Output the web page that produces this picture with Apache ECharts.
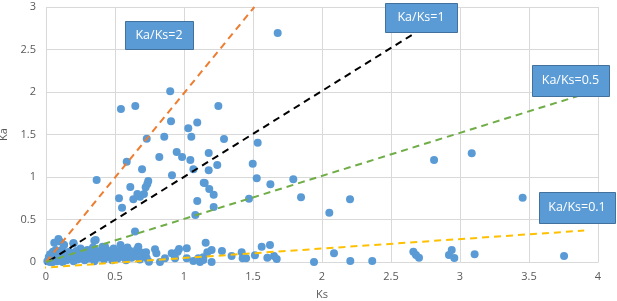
<!DOCTYPE html>
<html lang="en">
<head>
    <meta charset="utf-8"/>
    <title>Ka/Ks</title>
    <script src="https://cdn.jsdelivr.net/npm/echarts@6/dist/echarts.min.js"></script>
    <style>
        html, body { margin: 0; padding: 0; background: #fff; }
        #main { width: 617px; height: 301px; }
    </style>
</head>
<body>
<div id="main"></div>
<script>
    // Ks / Ka of every gene pair
    var ksValues = [
        0.367, 0.543, 0.647, 0.90, 0.73, 0.906, 1.031, 1.096, 1.053, 0.857, 0.585, 0.696, 0.821, 0.947, 0.986, 1.046,
        1.068, 0.913, 1.143, 0.741, 0.734, 0.722, 0.611, 0.529, 0.551, 0.633, 0.662, 0.681, 0.71, 1.096, 1.082, 0.645,
        1.249, 1.29, 1.179, 1.534, 1.241, 1.179, 1.498, 1.527, 1.15, 1.183, 1.215, 1.626, 1.792, 1.848, 1.471, 1.215,
        1.679, 2.203, 2.053, 2.812, 3.085, 3.454,
        0.669, 0.664, 0.725, 0.79, 0.80, 0.746, 0.73, 0.826, 0.862, 0.911, 0.93, 0.954, 0.964, 0.935, 1.02, 1.02,
        1.068, 1.104, 1.116, 1.157, 1.169, 1.2, 1.14, 1.14, 1.2, 1.275, 1.345, 1.418, 1.425, 1.45, 1.514, 1.563,
        1.623, 1.604, 1.652, 1.672, 1.942, 2.087, 2.205, 2.364, 2.662, 2.681, 2.703, 2.94, 2.92, 2.959, 3.106, 3.754,
        0.01, 0.02, 0.02, 0.03, 0.03, 0.04, 0.04, 0.05, 0.05, 0.06, 0.06, 0.07, 0.07, 0.08, 0.08, 0.09,
        0.09, 0.10, 0.10, 0.11, 0.12, 0.12, 0.13, 0.13, 0.14, 0.15, 0.16, 0.17, 0.18, 0.19, 0.20, 0.20,
        0.21, 0.22, 0.23, 0.24, 0.25, 0.26, 0.27, 0.28, 0.29, 0.30, 0.31, 0.32, 0.33, 0.34, 0.35, 0.35,
        0.36, 0.37, 0.38, 0.40, 0.41, 0.42, 0.43, 0.44, 0.45, 0.47, 0.48, 0.49, 0.50, 0.51, 0.52, 0.53,
        0.54, 0.55, 0.56, 0.57, 0.58, 0.59, 0.60, 0.61, 0.62, 0.63, 0.65, 0.66, 0.68, 0.70, 0.72, 0.06,
        0.10, 0.36, 0.13, 0.198, 0.428
    ];
    var kaValues = [
        0.965, 1.80, 1.835, 2.01, 1.45, 1.655, 1.573, 1.64, 1.474, 1.474, 1.18, 1.09, 1.235, 1.294, 1.235, 1.2,
        1.09, 1.02, 0.933, 0.953, 0.918, 0.878, 0.882, 0.749, 0.639, 0.737, 0.80, 0.769, 0.80, 0.718, 0.553, 0.36,
        1.835, 1.447, 1.282, 1.404, 1.141, 1.078, 1.157, 0.984, 0.929, 0.859, 0.792, 0.914, 0.973, 0.761, 0.745, 0.647,
        2.694, 0.737, 0.58, 1.2, 1.278, 0.757,
        0.18, 0.121, 0.114, 0.149, 0.102, 0.004, 0.043, 0, 0.043, 0.102, 0.082, 0.121, 0.153, 0.043, 0.161, 0.043,
        0.012, 0.043, 0, 0.227, 0.114, 0.141, 0.055, 0.024, 0, 0.129, 0.07, 0.114, 0.043, 0.043, 0.079, 0.18,
        0.2, 0.051, 0.071, 0.035, 0, 0.102, 0.012, 0.012, 0.121, 0.082, 0.051, 0.141, 0.082, 0.047, 0.09, 0.07,
        0.01, 0.03, 0.06, 0.0, 0.09, 0.02, 0.05, 0.12, 0.0, 0.08, 0.03, 0.14, 0.05, 0.01, 0.10, 0.27,
        0.06, 0.03, 0.12, 0.08, 0.0, 0.15, 0.05, 0.20, 0.10, 0.02, 0.07, 0.12, 0.04, 0.09, 0.22, 0.01,
        0.06, 0.13, 0.03, 0.09, 0.16, 0.05, 0.11, 0.02, 0.08, 0.14, 0.04, 0.10, 0.06, 0.17, 0.25, 0.01,
        0.09, 0.13, 0.05, 0.11, 0.18, 0.03, 0.08, 0.14, 0.06, 0.10, 0.02, 0.16, 0.07, 0.12, 0.04, 0.09,
        0.20, 0.14, 0.06, 0.11, 0.02, 0.17, 0.08, 0.13, 0.05, 0.10, 0.07, 0.15, 0.03, 0.11, 0.08, 0.227,
        0.24, 0.259, 0.2, 0.22, 0.18
    ];

    // dashed reference lines Ka/Ks = ratio
    var ratioNames = ['Ka/Ks=2', 'Ka/Ks=1', 'Ka/Ks=0.5', 'Ka/Ks=0.1'];
    var ratioColors = ['#ED7D31', '#000000', '#70AD47', '#FFC000'];
    var ratioStart = [[0, 0], [-0.05, -0.06], [0, 0], [-0.05, -0.07]];
    var ratioEnd = [[1.51, 3.0], [2.65, 2.67], [3.85, 1.95], [3.9, 0.37]];

    var xTicks = [0, 4, 0.5];
    var yTicks = [0, 3, 0.5];

    var points = ksValues.map(function (ks, i) { return [ks, kaValues[i]]; });

    var chartDom = document.getElementById('main');
    var myChart = echarts.init(chartDom, null, {renderer: 'canvas'});

    var series = [{
        name: 'pairs',
        type: 'scatter',
        symbolSize: 8,
        data: points,
        itemStyle: {color: '#5B9BD5', opacity: 1},
        z: 2
    }];
    ratioNames.forEach(function (name, i) {
        series.push({
            name: name,
            type: 'line',
            data: [ratioStart[i], ratioEnd[i]],
            symbol: 'none',
            clip: false,
            lineStyle: {color: ratioColors[i], width: 2, type: [7, 5]},
            z: 3
        });
    });

    // text boxes for the lines
    var boxes = [
        {x: 125, y: 21, w: 68, h: 28},
        {x: 385, y: 3, w: 72, h: 29},
        {x: 532, y: 65, w: 77, h: 31},
        {x: 539, y: 192, w: 76, h: 31}
    ];
    var graphics = [];
    boxes.forEach(function (b, i) {
        graphics.push({
            type: 'rect',
            shape: {x: b.x + 0.5, y: b.y + 0.5, width: b.w, height: b.h},
            style: {fill: '#5B9BD5', stroke: '#41719C', lineWidth: 1},
            z: 10
        });
        graphics.push({
            type: 'text',
            x: b.x + b.w / 2,
            y: b.y + b.h / 2,
            style: {
                text: ratioNames[i], fill: '#fff', font: '12.5px "Open Sans", sans-serif',
                textAlign: 'center', textVerticalAlign: 'middle'
            },
            z: 11
        });
    });

    var option = {
        animation: false,
        grid: {left: 46, right: 19, top: 7, bottom: 39, containLabel: false, outerBoundsMode: 'none'},
        xAxis: {
            type: 'value',
            min: xTicks[0], max: xTicks[1], interval: xTicks[2],
            name: 'Ks', nameLocation: 'middle', nameGap: 27,
            nameTextStyle: {color: '#595959', fontSize: 11, fontFamily: 'Open Sans'},
            axisLine: {show: true, lineStyle: {color: '#d9d9d9'}},
            axisTick: {show: false},
            axisLabel: {color: '#595959', fontSize: 11, margin: 9, fontFamily: 'Open Sans'},
            splitLine: {show: true, lineStyle: {color: '#d9d9d9'}}
        },
        yAxis: {
            type: 'value',
            min: yTicks[0], max: yTicks[1], interval: yTicks[2],
            name: 'Ka', nameLocation: 'middle', nameGap: 24,
            nameTextStyle: {color: '#595959', fontSize: 11, fontFamily: 'Open Sans'},
            axisLine: {show: false},
            axisTick: {show: false},
            axisLabel: {color: '#595959', fontSize: 11, margin: 10, fontFamily: 'Open Sans'},
            splitLine: {show: true, lineStyle: {color: '#d9d9d9'}}
        },
        series: series,
        graphic: graphics
    };
    myChart.setOption(option);
</script>
</body>
</html>
